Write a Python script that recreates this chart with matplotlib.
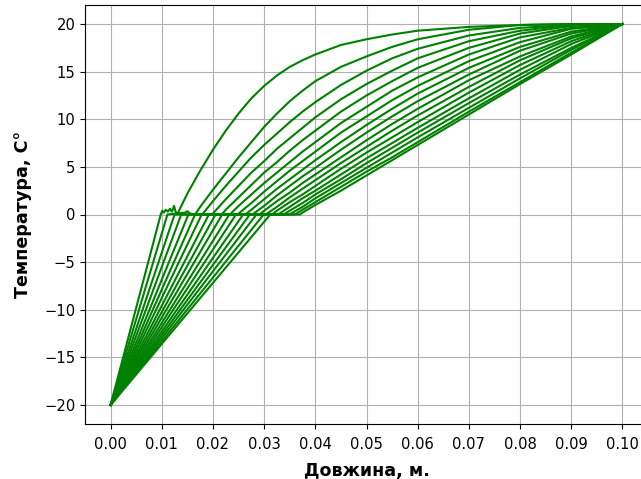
"""Temperature profiles along the sample (freezing front), one green line per time step."""

import matplotlib

matplotlib.use("Agg")
import matplotlib.pyplot as plt

T_COLD = -20.0

# x where the frozen (linear) part reaches 0 C, per time step
front_x = [0.0098, 0.0111, 0.0125, 0.0138, 0.0152, 0.0165, 0.0178, 0.0192, 0.0205,
           0.0218, 0.0232, 0.0245, 0.0259, 0.0272, 0.0285, 0.0299, 0.0312]
# x where the profile leaves 0 C again
thaw_x = [0.0130, 0.0165, 0.0179, 0.0199, 0.0217, 0.0233, 0.0249, 0.0263, 0.0277,
          0.0291, 0.0303, 0.0315, 0.0327, 0.0338, 0.0349, 0.0360, 0.0370]

# small numerical wiggles on the first two plateaus
wiggle0_x = [0.0101, 0.0104, 0.0108, 0.0112, 0.0116, 0.0120, 0.0124, 0.0127]
wiggle0_y = [0.4, 0.2, 0.5, 0.3, 0.6, 0.3, 0.9, 0.3]
wiggle1_x = [0.0146, 0.0150, 0.0155]
wiggle1_y = [0.2, 0.35, 0.1]

x_grid = [0.015, 0.0175, 0.02, 0.0225, 0.025, 0.0275, 0.03, 0.0325, 0.035, 0.0375,
          0.04, 0.045, 0.05, 0.055, 0.06, 0.07, 0.08, 0.09, 0.1]
N = None
T_upper = [
    [2.2, 4.6, 6.8, 8.8, 10.6, 12.2, 13.5, 14.6, 15.5, 16.2, 16.8, 17.8, 18.4, 18.9, 19.3, 19.7, 19.9, 20.0, 20.0],
    [N, 0.8, 2.6, 4.3, 6.0, 7.6, 9.2, 10.6, 11.9, 13.0, 14.0, 15.5, 16.6, 17.6, 18.4, 19.4, 19.9, 20.0, 20.0],
    [N, N, 1.4, 3.0, 4.5, 6.0, 7.3, 8.5, 9.7, 10.8, 11.8, 13.6, 15.1, 16.4, 17.4, 18.8, 19.6, 19.9, 20.0],
    [N, N, 0.1, 1.6, 3.0, 4.4, 5.6, 6.9, 8.0, 9.1, 10.2, 12.1, 13.7, 15.1, 16.4, 18.2, 19.3, 19.9, 20.0],
    [N, N, N, 0.5, 1.8, 3.1, 4.4, 5.5, 6.7, 7.8, 8.8, 10.8, 12.5, 14.0, 15.4, 17.5, 19.0, 19.8, 20.0],
    [N, N, N, N, 0.9, 2.1, 3.3, 4.4, 5.5, 6.6, 7.6, 9.6, 11.3, 13.0, 14.4, 16.8, 18.6, 19.6, 20.0],
    [N, N, N, N, 0.1, 1.2, 2.4, 3.5, 4.6, 5.6, 6.6, 8.6, 10.3, 12.0, 13.5, 16.1, 18.1, 19.5, 20.0],
    [N, N, N, N, N, 0.5, 1.6, 2.7, 3.7, 4.7, 5.7, 7.6, 9.4, 11.1, 12.7, 15.4, 17.6, 19.2, 20.0],
    [N, N, N, N, N, N, 0.9, 2.0, 3.0, 4.0, 4.9, 6.8, 8.6, 10.3, 11.9, 14.7, 17.2, 19.0, 20.0],
    [N, N, N, N, N, N, 0.4, 1.4, 2.3, 3.3, 4.2, 6.0, 7.8, 9.5, 11.1, 14.1, 16.6, 18.7, 20.0],
    [N, N, N, N, N, N, N, 0.8, 1.8, 2.7, 3.6, 5.4, 7.1, 8.8, 10.4, 13.4, 16.2, 18.5, 20.0],
    [N, N, N, N, N, N, N, 0.4, 1.3, 2.1, 3.0, 4.8, 6.5, 8.1, 9.7, 12.8, 15.7, 18.2, 20.0],
    [N, N, N, N, N, N, N, N, 0.8, 1.7, 2.5, 4.2, 5.9, 7.5, 9.1, 12.2, 15.2, 17.9, 20.0],
    [N, N, N, N, N, N, N, N, 0.4, 1.2, 2.1, 3.7, 5.4, 7.0, 8.6, 11.7, 14.7, 17.5, 20.0],
    [N, N, N, N, N, N, N, N, N, 0.8, 1.7, 3.3, 4.9, 6.5, 8.1, 11.2, 14.3, 17.3, 20.0],
    [N, N, N, N, N, N, N, N, N, 0.5, 1.3, 2.9, 4.5, 6.0, 7.6, 10.8, 13.9, 17.0, 20.0],
    [N, N, N, N, N, N, N, N, N, 0.2, 1.0, 2.5, 4.1, 5.7, 7.3, 10.5, 13.7, 16.8, 20.0],
]


def profile(i):
    xs = [0.0, front_x[i]]
    ys = [T_COLD, 0.0]
    if i == 0:
        xs += wiggle0_x
        ys += wiggle0_y
    elif i == 1:
        xs += wiggle1_x
        ys += wiggle1_y
    xs.append(thaw_x[i])
    ys.append(0.0)
    for x, t in zip(x_grid, T_upper[i]):
        if t is not None:
            xs.append(x)
            ys.append(t)
    return xs, ys


def main():
    fig = plt.figure(figsize=(6.41, 4.79), dpi=100)
    ax = fig.add_axes([85 / 641, 55 / 479, 563 / 641, 419 / 479])
    for i in range(len(front_x)):
        xs, ys = profile(i)
        ax.plot(xs, ys, color="g", linewidth=1.5)
    ax.set_xlim(-0.005, 0.105)
    ax.set_ylim(-22, 22)
    ax.set_xticks([k / 100 for k in range(11)])
    ax.set_xticklabels([f"{k / 100:.2f}" for k in range(11)])
    ax.set_yticks(range(-20, 21, 5))
    ax.tick_params(labelsize=10.6)
    ax.tick_params(axis="x", pad=6)
    ax.grid(True)
    ax.set_xlabel("Довжина, м.", fontsize=12.6, fontweight="bold", labelpad=7)
    ax.set_ylabel("Температура, C°", fontsize=12.6, fontweight="bold", labelpad=9)
    fig.savefig("out.png", dpi=100)
    plt.close(fig)


if __name__ == "__main__":
    main()
